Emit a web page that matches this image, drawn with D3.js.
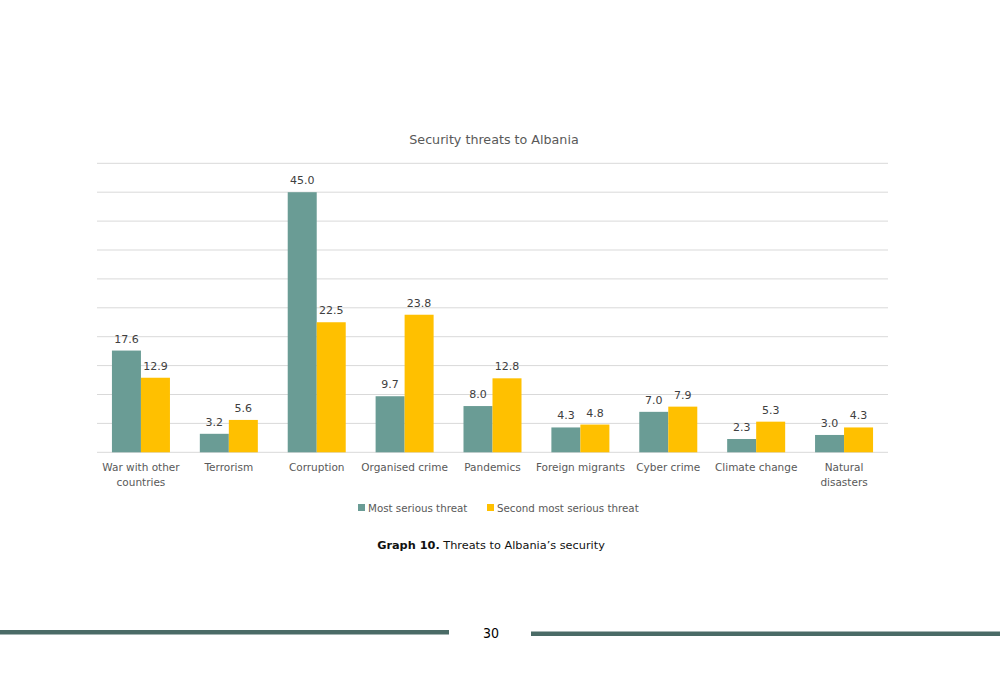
<!DOCTYPE html>
<html>
<head>
<meta charset="utf-8">
<script src="https://cdn.jsdelivr.net/npm/d3@7"></script>
<style>
  body { margin: 0; background: #fff; }
  svg { display: block; }
  text { font-family: "DejaVu Sans", sans-serif; }
</style>
</head>
<body>
<div id="chart"></div>
<script>
var categories = ["War with other countries", "Terrorism", "Corruption", "Organised crime",
  "Pandemics", "Foreign migrants", "Cyber crime", "Climate change", "Natural disasters"];
var catLines = [["War with other", "countries"], ["Terrorism"], ["Corruption"], ["Organised crime"],
  ["Pandemics"], ["Foreign migrants"], ["Cyber crime"], ["Climate change"], ["Natural", "disasters"]];
var mostSerious = [17.6, 3.2, 45.0, 9.7, 8.0, 4.3, 7.0, 2.3, 3.0];
var secondSerious = [12.9, 5.6, 22.5, 23.8, 12.8, 4.8, 7.9, 5.3, 4.3];
var seriesNames = ["Most serious threat", "Second most serious threat"];
var yTicks = [0, 5, 10, 15, 20, 25, 30, 35, 40, 45, 50];

var chart = { left: 97, right: 888, top: 163.3, bottom: 452.3 };
var colors = ["#6a9c95", "#ffc000"];

var svg = d3.select("#chart").append("svg")
    .attr("width", 1000)
    .attr("height", 690);

var x = d3.scaleBand()
    .domain(categories)
    .range([chart.left, chart.right])
    .paddingInner(0.34)
    .paddingOuter(0.17);

var xSub = d3.scaleBand()
    .domain([0, 1])
    .range([0, x.bandwidth()]);

var y = d3.scaleLinear()
    .domain([0, 50])
    .range([chart.bottom, chart.top]);

// gridlines
svg.append("g")
    .selectAll("line")
    .data(yTicks)
  .enter().append("line")
    .attr("x1", chart.left)
    .attr("x2", chart.right)
    .attr("y1", function(d) { return y(d); })
    .attr("y2", function(d) { return y(d); })
    .attr("stroke", "#d9d9d9")
    .attr("stroke-width", 1);

svg.append("text")
    .attr("x", 494)
    .attr("y", 144)
    .attr("text-anchor", "middle")
    .attr("fill", "#595959")
    .style("font-size", "12.7px")
    .text("Security threats to Albania");

var rows = categories.map(function(c, i) {
  return { cat: c, vals: [mostSerious[i], secondSerious[i]] };
});

var group = svg.selectAll("g.cat")
    .data(rows)
  .enter().append("g")
    .attr("class", "cat")
    .attr("transform", function(d) { return "translate(" + x(d.cat) + ",0)"; });

group.selectAll("rect")
    .data(function(d) { return d.vals; })
  .enter().append("rect")
    .attr("x", function(d, i) { return xSub(i); })
    .attr("width", xSub.bandwidth())
    .attr("y", function(d) { return y(d); })
    .attr("height", function(d) { return y(0) - y(d); })
    .attr("fill", function(d, i) { return colors[i]; });

group.selectAll("text.val")
    .data(function(d) { return d.vals; })
  .enter().append("text")
    .attr("class", "val")
    .attr("x", function(d, i) { return xSub(i) + xSub.bandwidth() / 2; })
    .attr("y", function(d) { return y(d) - 8; })
    .attr("text-anchor", "middle")
    .attr("fill", "#404040")
    .style("font-size", "11px")
    .text(function(d) { return d.toFixed(1); });

// category labels
group.append("text")
    .attr("text-anchor", "middle")
    .attr("fill", "#595959")
    .style("font-size", "10.5px")
    .attr("x", x.bandwidth() / 2)
    .selectAll("tspan")
    .data(function(d, i) { return catLines[i]; })
  .enter().append("tspan")
    .attr("x", x.bandwidth() / 2)
    .attr("y", function(d, i) { return 471 + i * 14.5; })
    .text(function(d) { return d; });

// legend
var legend = svg.append("g");
var legendX = [358, 487];
seriesNames.forEach(function(name, i) {
  legend.append("rect")
      .attr("x", legendX[i])
      .attr("y", 504)
      .attr("width", 7)
      .attr("height", 7)
      .attr("fill", colors[i]);
  legend.append("text")
      .attr("x", legendX[i] + 10)
      .attr("y", 512)
      .attr("fill", "#595959")
      .style("font-size", "10.3px")
      .text(name);
});

// caption
var caption = svg.append("text")
    .attr("x", 491)
    .attr("y", 549)
    .attr("text-anchor", "middle")
    .attr("fill", "#111")
    .style("font-size", "11.3px");
caption.append("tspan").style("font-weight", "bold").text("Graph 10.");
caption.append("tspan").text(" Threats to Albania\u2019s security");

// footer
svg.append("rect").attr("x", 0).attr("y", 630).attr("width", 449).attr("height", 4.5).attr("fill", "#4a6b66");
svg.append("rect").attr("x", 531).attr("y", 631.5).attr("width", 469).attr("height", 4.5).attr("fill", "#4a6b66");
svg.append("text")
    .attr("x", 491)
    .attr("y", 638)
    .attr("text-anchor", "middle")
    .attr("fill", "#000")
    .style("font-family", "'Liberation Sans Narrow', 'DejaVu Sans Condensed', sans-serif")
    .style("font-size", "14px")
    .text("30");
</script>
</body>
</html>
